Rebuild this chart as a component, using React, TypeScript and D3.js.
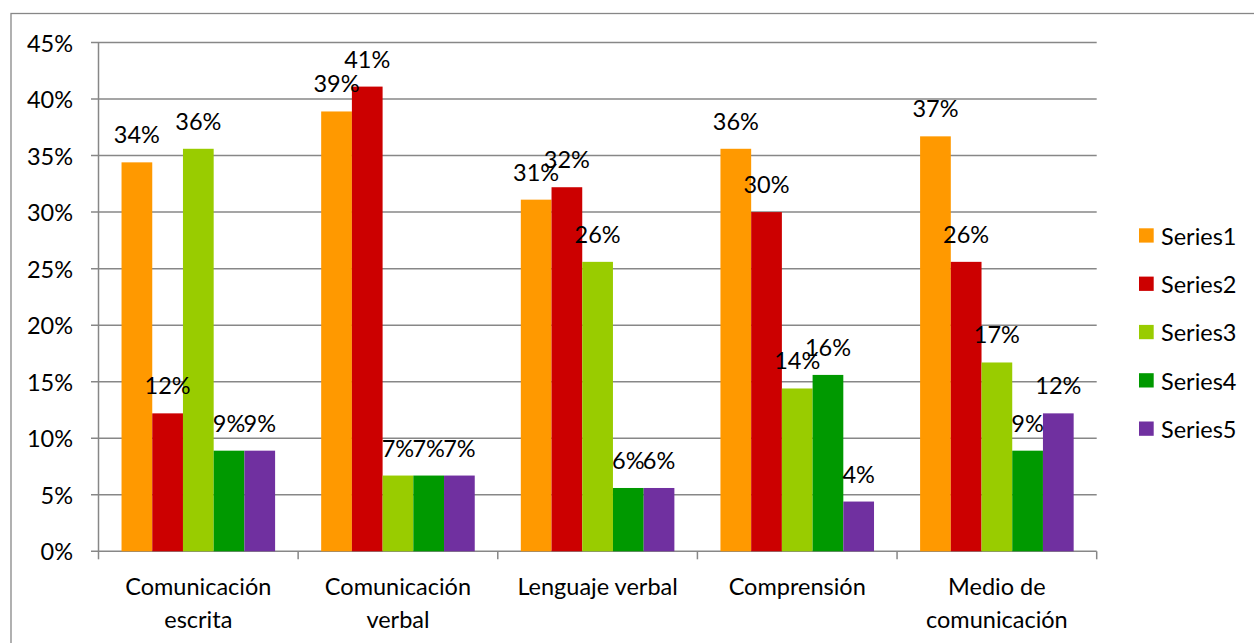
import React from "react";
import * as d3 from "d3";

const categories: string[][] = [
  ["Comunicación", "escrita"],
  ["Comunicación", "verbal"],
  ["Lenguaje verbal"],
  ["Comprensión"],
  ["Medio de", "comunicación"],
];
const seriesNames = ["Series1", "Series2", "Series3", "Series4", "Series5"];
const series1 = [0.344, 0.389, 0.311, 0.356, 0.367];
const series2 = [0.122, 0.411, 0.322, 0.3, 0.256];
const series3 = [0.356, 0.067, 0.256, 0.144, 0.167];
const series4 = [0.089, 0.067, 0.056, 0.156, 0.089];
const series5 = [0.089, 0.067, 0.056, 0.044, 0.122];
const yTicks = [0, 0.05, 0.1, 0.15, 0.2, 0.25, 0.3, 0.35, 0.4, 0.45];
const colors = ["#FF9900", "#CC0000", "#99CC00", "#009900", "#7030A0"];

const allSeries = [series1, series2, series3, series4, series5];

const W = 1254;
const H = 643;
const FONT = "Lato, 'Open Sans', sans-serif";
const FS = 23.5;
const GRID = "#878787";

export default function App() {
  const left = 98.5;
  const right = 1096.7;
  const top = 42.5;
  const bottom = 551.3;
  const catIdx = categories.map((_, i) => String(i));
  const x0 = d3.scaleBand<string>().domain(catIdx).range([left, right]).padding(0);
  const bw = x0.bandwidth();
  const barW = bw / 6.5;
  const x1 = d3
    .scaleBand<string>()
    .domain(seriesNames)
    .range([barW * 0.75, bw - barW * 0.75])
    .padding(0);
  const y = d3.scaleLinear().domain([0, 0.45]).range([bottom, top]);
  const fmt = d3.format(".0%");

  return (
    <svg
      width={W}
      height={H}
      style={{ position: "absolute", left: 0, top: 0, background: "#fff" }}
      fontFamily={FONT}
    >
      <rect x={0} y={0} width={W} height={H} fill="#fff" />
      <rect x={11} y={13.5} width={1400} height={800} fill="none" stroke={GRID} strokeWidth={1.3} />
      {/* gridlines and y ticks */}
      {yTicks.map((t) => (
        <g key={t}>
          <line x1={left - 7.5} x2={right} y1={y(t)} y2={y(t)} stroke={GRID} strokeWidth={1.5} />
          <text
            x={73}
            y={y(t)}
            textAnchor="end"
            dominantBaseline="central"
            fontSize={FS}
            fill="#000"
          >
            {fmt(t)}
          </text>
        </g>
      ))}
      {/* y axis */}
      <line x1={left} x2={left} y1={top} y2={bottom} stroke={GRID} strokeWidth={1.5} />
      {/* x tick marks */}
      {[...catIdx.map((c) => x0(c)!), right].map((xv, i) => (
        <line key={i} x1={xv} x2={xv} y1={bottom} y2={bottom + 8} stroke={GRID} strokeWidth={1.5} />
      ))}
      {/* bars */}
      {allSeries.map((vals, si) =>
        vals.map((v, ci) => {
          const bx = x0(String(ci))! + x1(seriesNames[si])!;
          return (
            <rect
              key={`${si}-${ci}`}
              x={bx}
              y={y(v)}
              width={x1.bandwidth()}
              height={bottom - y(v)}
              fill={colors[si]}
            />
          );
        })
      )}
      {/* labels */}
      {allSeries.map((vals, si) =>
        vals.map((v, ci) => {
          const bx = x0(String(ci))! + x1(seriesNames[si])! + x1.bandwidth() / 2;
          return (
            <text
              key={`l${si}-${ci}`}
              x={bx}
              y={y(v) - 19}
              textAnchor="middle"
              fontSize={FS}
              fill="#000"
            >
              {fmt(v)}
            </text>
          );
        })
      )}
      {/* category labels */}
      {categories.map((lines, ci) => (
        <text
          key={`c${ci}`}
          x={x0(String(ci))! + bw / 2}
          y={595}
          textAnchor="middle"
          fontSize={FS}
          fill="#000"
        >
          {lines.map((ln, li) => (
            <tspan key={li} x={x0(String(ci))! + bw / 2} dy={li === 0 ? 0 : 33}>
              {ln}
            </tspan>
          ))}
        </text>
      ))}
      {/* legend */}
      {seriesNames.map((s, si) => (
        <g key={s} transform={`translate(1139, ${228.3 + si * 48.3})`}>
          <rect x={0} y={0} width={14.7} height={14.3} fill={colors[si]} />
          <text x={22} y={7.5} dominantBaseline="central" fontSize={FS} fill="#000">
            {s}
          </text>
        </g>
      ))}
    </svg>
  );
}
